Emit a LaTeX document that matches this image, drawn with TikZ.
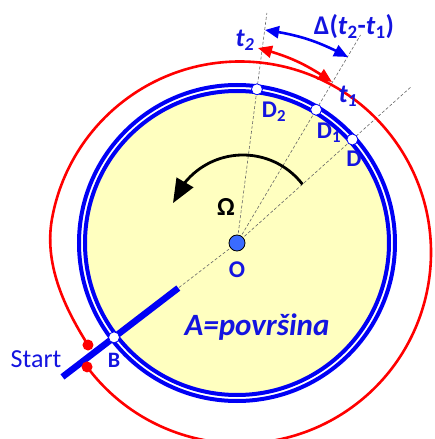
\documentclass[tikz,border=0pt]{standalone}
\usepackage{fontspec}
\setmainfont{Carlito}
\usetikzlibrary{arrows.meta, bending, positioning, calc}
\definecolor{orbitBlue}{HTML}{0000F5}
\definecolor{orbitRed}{HTML}{FF0000}
\definecolor{orbitYellow}{HTML}{FFFFC0}
\definecolor{orbitDot}{HTML}{3A6BFF}
\definecolor{orbitInk}{HTML}{1414E0}

\begin{document}
\begin{tikzpicture}[
    x=1pt, y=1pt,
    ring/.style={draw=orbitBlue, line width=4pt},
    ray/.style={draw=black!60, dash pattern=on 3pt off 2pt, line width=0.6pt},
    spot/.style={circle, draw=orbitBlue, fill=white, line width=0.8pt, inner sep=0pt, minimum size=11pt},
    reddot/.style={circle, fill=orbitRed, inner sep=0pt, minimum size=11pt},
    lbl/.style={text=orbitInk, font=\fontsize{24}{26}\selectfont\bfseries, inner sep=0pt},
    tlbl/.style={text=orbitInk, font=\fontsize{26}{28}\selectfont\bfseries\itshape, inner sep=0pt},
    span/.style={{Triangle[length=14pt,width=12pt]}-{Triangle[length=14pt,width=12pt]}, line width=2.6pt, bend left=10},
  ]
    \useasboundingbox (-237,-196) rectangle (197,243);

    % Disc and rays
    \fill[orbitYellow] (0,0) circle (152);
    \coordinate (o) at (0,0);
    \coordinate (r2) at (82.6:232);
    \coordinate (r1) at (59.3:242);
    \coordinate (r0) at (41.9:234);
    \coordinate (bin) at (217.5:74);
    \coordinate (bout) at (217.5:220);
    \draw[ray] (o) -- (r2);
    \draw[ray] (o) -- (r1);
    \draw[ray] (o) -- (r0);
    \draw[ray] (o) -- (bin);

    % Double ring
    \draw[ring] (0,0) circle (152);
    \draw[ring] (0,0) circle (158);

    % One lap (red)
    \coordinate (rc) at (3,-9.5);
    \coordinate (s2) at ($(rc)+(216.8:191)$);
    \coordinate (s1) at (-149,-102);
    \draw[orbitRed, line width=2.6pt] (s2) arc[start angle=216.8, end angle=530, radius=191]
      .. controls +(260:50) and +(122:35) .. (s1);

    % Start line
    \draw[orbitBlue, line width=6.5pt] (bin) -- (bout);

    % Rotation
    \coordinate (w0) at ($(6,13)+(37.6:75)$);
    \draw[line width=2.8pt, -{Triangle[length=24pt,width=19pt,flex]}] (w0) arc[start angle=37.6, end angle=159, radius=75];
    \node[font=\fontsize{26}{28}\selectfont\bfseries, inner sep=0pt] (omega) at (-11,36) {Ω};

    % Time markers
    \coordinate (a2) at (21,195);
    \coordinate (a1) at (95,161);
    \coordinate (b2) at (28,213);
    \coordinate (b1) at (111,186);
    \draw[span, orbitRed] (a2) to (a1);
    \draw[span, orbitBlue] (b2) to (b1);
    \node[tlbl] (t2) at (8,203) {t\textsubscript{2}};
    \node[tlbl] (t1) at (111,147) {t\textsubscript{1}};
    \node[lbl, font=\fontsize{27}{29}\selectfont\bfseries] (dt) at (117,216) {Δ(\textit{t}\textsubscript{2}-\textit{t}\textsubscript{1})};

    % Points on the ring
    \node[spot] (d2) at (82.6:155) {};
    \node[spot] (d1) at (59.3:155) {};
    \node[spot] (d0) at (41.9:155) {};
    \node[spot] (b) at (217.5:155) {};
    \node[reddot] (p1) at (s1) {};
    \node[reddot] (p2) at (s2) {};
    \node[circle, draw=black, fill=orbitDot, line width=0.8pt, inner sep=0pt, minimum size=16pt] (odot) at (o) {};

    % Labels
    \node[lbl] (d2l) at (37,131) {D\textsubscript{2}};
    \node[lbl] (d1l) at (92,110) {D\textsubscript{1}};
    \node[lbl] (d0l) at (117,84) {D};
    \node[lbl, below=10pt of odot] (ol) {O};
    \node[lbl, font=\fontsize{22}{24}\selectfont\bfseries, below=10pt of b] (bl) {B};
    \node[text=orbitInk, font=\fontsize{26}{28}\selectfont, inner sep=0pt] (start) at (-201,-116) {Start};
    \node[lbl, font=\fontsize{31}{33}\selectfont\bfseries\itshape] (area) at (20,-84) {A=površina};
\end{tikzpicture}
\end{document}
